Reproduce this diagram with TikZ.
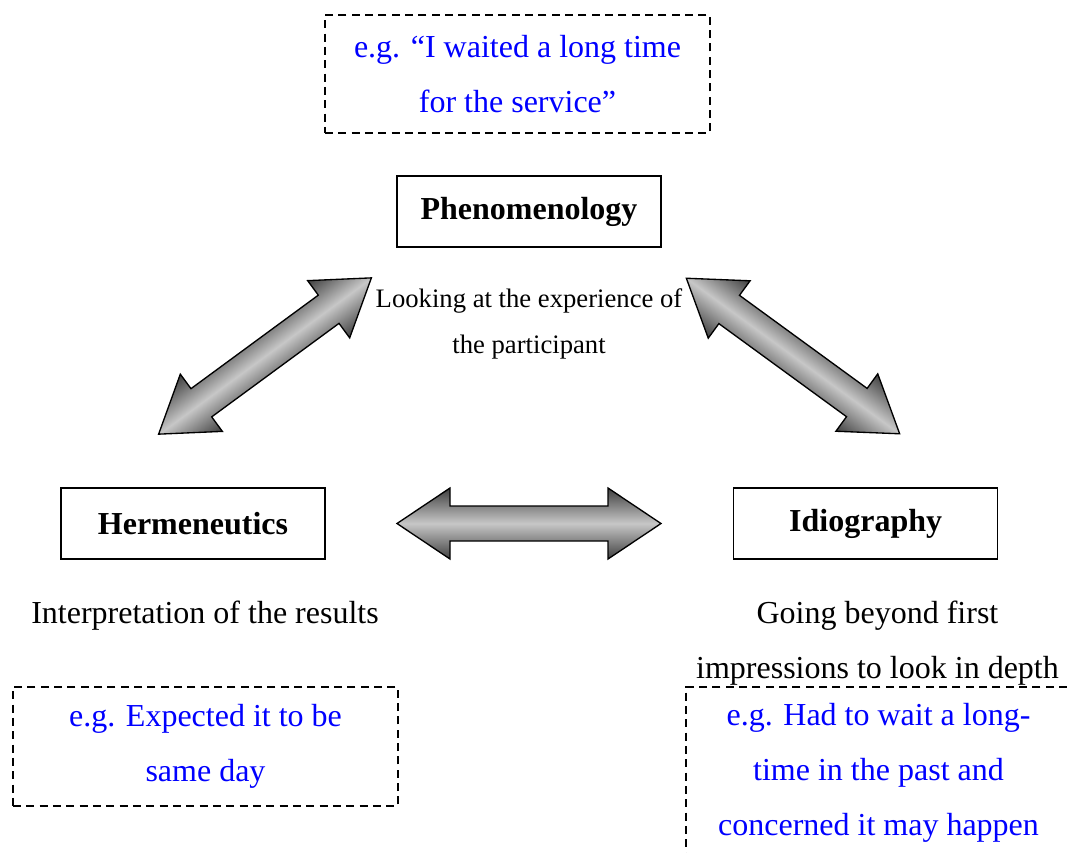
\documentclass[tikz,border=0pt]{standalone}
\usepackage{fontspec}
\setmainfont{Liberation Serif}
\usetikzlibrary{positioning}

\tikzset{
	twelve/.style={font=\fontsize{12pt}{20.6pt}\selectfont},
	conceptbox/.style={draw, line width=0.55pt, minimum width=99pt, minimum height=26.6pt, inner sep=0pt, twelve, font=\fontsize{12pt}{20.6pt}\selectfont\bfseries},
	examplebox/.style={draw, dash pattern=on 3pt off 2pt, line width=0.7pt, minimum width=144.4pt, inner sep=0pt, align=center, text=blue, twelve},
	plaintext/.style={inner sep=0pt, align=center, twelve},
	smalltext/.style={inner sep=0pt, align=center, font=\fontsize{10pt}{17.25pt}\selectfont},
	bigarrow/.style={draw, line width=0.5pt, top color=black!75, bottom color=black!75, middle color=black!22}
}

% shaded double arrow, #1 centre, #2 angle
\newcommand{\dblarrow}[2]{%
	\begin{scope}[transform canvas={shift={#1}, rotate=#2}]
		\draw[bigarrow] (-132,0) -- (-79,-35.5) -- (-79,-17.5) -- (79,-17.5) -- (79,-35.5) -- (132,0)
		-- (79,35.5) -- (79,17.5) -- (-79,17.5) -- (-79,35.5) -- cycle;
	\end{scope}}

\begin{document}
\begin{tikzpicture}[x=0.375pt, y=-0.375pt]
		\useasboundingbox (0,0) rectangle (1067,852);
		\clip (0,0) rectangle (1067,852);
		\node[examplebox, minimum height=44.25pt] (exphen) at (517.5,74) {e.g. “I waited a long time\\for the service”};
		\node[conceptbox] (phen) at (529,211.5) {Phenomenology};
		\node[smalltext] (phentext) at (529,324) {Looking at the experience of\\the participant};
		\node[conceptbox] (herm) at (193,523.5) {Hermeneutics};
		\node[conceptbox, right = 152.7pt of herm] (idio) {Idiography};
		\node[plaintext] (hermtext) at (205,616) {Interpretation of the results};
		\node[plaintext] (idiotext) at (877.5,643) {Going beyond first\\impressions to look in depth};
		\node[examplebox, minimum height=44.6pt] (exherm) at (205.5,746.5) {e.g. Expected it to be\\same day};
		\node[examplebox, minimum height=64.1pt] (exidio) at (878.5,772.5) {e.g. Had to wait a long-\\time in the past and\\concerned it may happen};
		\dblarrow{(265,356)}{36.3}
		\dblarrow{(793,356)}{-36.1}
		\dblarrow{(529,523.5)}{0}
\end{tikzpicture}
\end{document}
